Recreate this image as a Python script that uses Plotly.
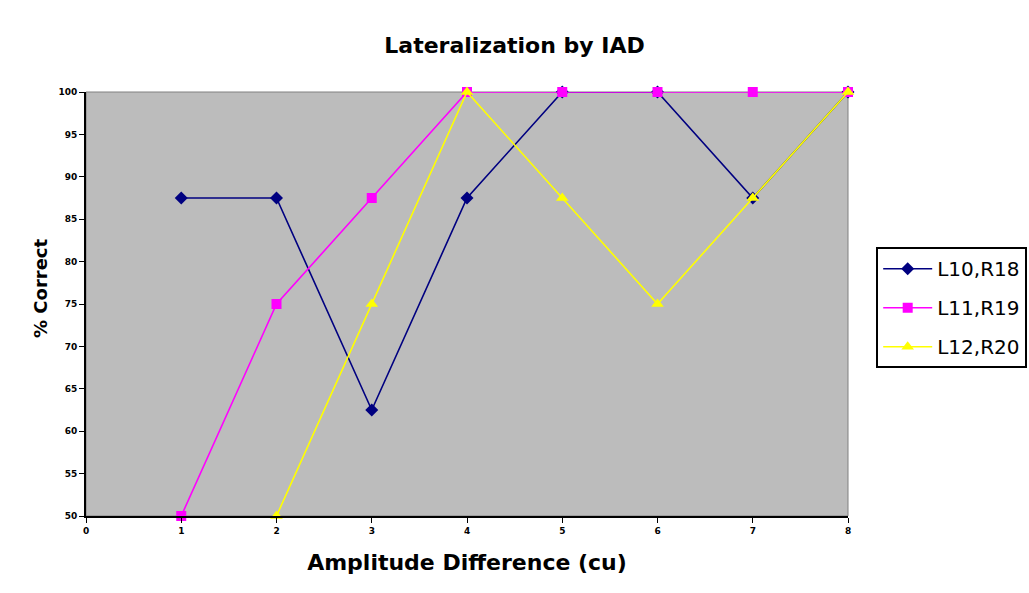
import plotly.graph_objects as go

x_vals = [1, 2, 3, 4, 5, 6, 7, 8]
l10_r18 = [87.5, 87.5, 62.5, 87.5, 100, 100, 87.5, 100]
l11_r19 = [50, 75, 87.5, 100, 100, 100, 100, 100]
x_l12 = [2, 3, 4, 5, 6, 7, 8]
l12_r20 = [50, 75, 100, 87.5, 75, 87.5, 100]

series = [
    ("L10,R18", x_vals, l10_r18, "#000080", "diamond", 10),
    ("L11,R19", x_vals, l11_r19, "#ff00ff", "square", 10),
    ("L12,R20", x_l12, l12_r20, "#ffff00", "triangle-up", 11),
]

fig = go.Figure()
for i, (name, xs, ys, color, sym, size) in enumerate(series):
    fig.add_trace(go.Scatter(
        x=xs, y=ys, name=name, mode="lines+markers", legendgroup=f"g{i}",
        line=dict(color=color, width=1.6),
        marker=dict(symbol=sym, size=size, color=color, line=dict(width=0)),
        cliponaxis=False,
    ))

font = "DejaVu Sans, Liberation Sans, Arial, sans-serif"
fig.update_layout(
    width=1029, height=593,
    margin=dict(l=86, r=181, t=92, b=77, autoexpand=False),
    paper_bgcolor="white",
    plot_bgcolor="#bcbcbc",
    title=dict(text="<b>Lateralization by IAD</b>", x=0.5, xanchor="center",
               y=1 - 45 / 593, yanchor="middle",
               font=dict(family=font, size=22, color="black")),
    legend=dict(x=1.037, xanchor="left", y=0.634, yanchor="top",
                bordercolor="black", borderwidth=2, bgcolor="white",
                font=dict(family=font, size=20, color="black"),
                itemwidth=49,
                traceorder="grouped", tracegroupgap=10),
    showlegend=True,
)
fig.update_xaxes(
    range=[0, 8], tickvals=list(range(0, 9)), showgrid=False, zeroline=False,
    showline=True, linecolor="black", linewidth=2,
    ticks="outside", ticklen=5, tickcolor="black",
    tickfont=dict(family=font, size=9, color="black", weight="bold"),
    title=dict(text="<b>Amplitude Difference (cu)</b>", standoff=20,
               font=dict(family=font, size=22, color="black")),
)
fig.update_yaxes(
    range=[50, 100], tickvals=list(range(50, 101, 5)), showgrid=False, zeroline=False,
    showline=True, linecolor="black", linewidth=2,
    ticks="outside", ticklen=5, tickcolor="black",
    tickfont=dict(family=font, size=9, color="black", weight="bold"),
)
fig.add_annotation(text="<b>% Correct</b>", xref="paper", yref="paper",
                   x=(40 - 86) / 762, y=(516 - 288) / 424, textangle=-90,
                   showarrow=False, xanchor="center", yanchor="middle",
                   font=dict(family=font, size=18, color="black"))
fig.add_shape(type="rect", xref="paper", yref="paper", x0=0, x1=1, y0=0, y1=1,
              line=dict(color="#808080", width=1), layer="below")

fig.write_html("out.html")
